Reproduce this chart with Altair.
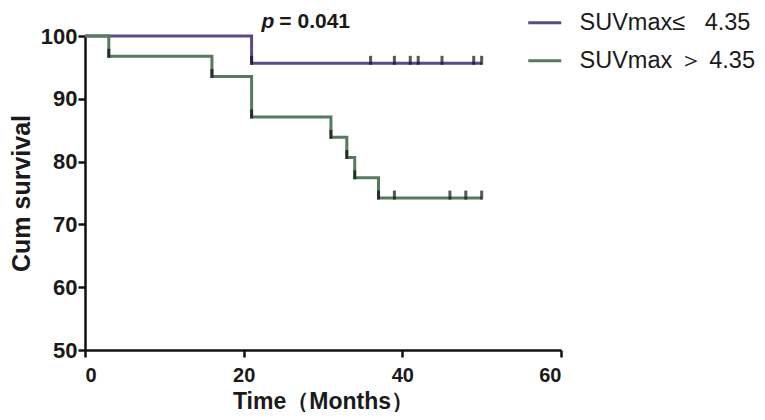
import altair as alt
import pandas as pd

# ---- data ----
series_names = ["SUVmax\u2264\u00a0\u00a0\u00a04.35", "SUVmax \uff1e\u00a04.35"]
series_colors = ["#5a4a88", "#567a5c"]

low_time = [0, 21, 50]
low_surv = [100, 95.65, 95.65]
low_event_time = [21]
low_event_surv = [95.65]
low_cens_time = [36, 39, 41, 42, 45, 49, 50]

high_time = [0, 3, 16, 21, 31, 33, 34, 37, 50]
high_surv = [100, 96.77, 93.55, 87.10, 83.87, 80.65, 77.42, 74.19, 74.19]
high_event_time = [3, 16, 21, 31, 33, 34, 37]
high_event_surv = [96.77, 93.55, 87.10, 83.87, 80.65, 77.42, 74.19]
high_cens_time = [39, 46, 48, 50]

x_ticks = [0, 20, 40, 60]
y_ticks = [50, 60, 70, 80, 90, 100]
p_text = ["p", "= 0.041"]
p_pos = [24.5, 101.35]

# ---- tables ----
lines = pd.DataFrame(
    {"time": low_time + high_time,
     "surv": low_surv + high_surv,
     "series": [series_names[0]] * len(low_time) + [series_names[1]] * len(high_time)}
)
ticks = pd.DataFrame(
    {"time": low_event_time + low_cens_time + high_event_time + high_cens_time,
     "surv": low_event_surv + [low_surv[-1]] * len(low_cens_time)
     + high_event_surv + [high_surv[-1]] * len(high_cens_time),
     "series": [series_names[0]] * (len(low_event_time) + len(low_cens_time))
     + [series_names[1]] * (len(high_event_time) + len(high_cens_time))}
)
ann = pd.DataFrame({"x": [p_pos[0]], "y": [p_pos[1]]})

FONT = "Liberation Sans"
xs = alt.Scale(domain=[0, 60], nice=False, zero=False)
ys = alt.Scale(domain=[50, 100], nice=False, zero=False)

LEG_X = 448
LEG_Y = -25
SYM = 272
LEG_FS = 23.5
ROWPAD = 13
LEG_OFF = 23

line_layer = alt.Chart(lines).mark_line(interpolate="step-after", strokeWidth=3, clip=False).encode(
    x=alt.X("time:Q", scale=xs,
            axis=alt.Axis(values=x_ticks, title="Time\uff08Months\uff09", labelPadding=8,
                          labelFontSize=20, titlePadding=5)),
    y=alt.Y("surv:Q", scale=ys,
            axis=alt.Axis(values=y_ticks, title="Cum survival", labelPadding=1,
                          labelFontSize=22, titleFontSize=25, titlePadding=6)),
    color=alt.Color("series:N",
                    scale=alt.Scale(domain=series_names, range=series_colors),
                    legend=alt.Legend(orient="none", legendX=LEG_X, legendY=LEG_Y, title=None,
                                      symbolType="M-2,0H2", symbolSize=SYM,
                                      symbolStrokeWidth=3, symbolFillColor="transparent",
                                      labelFont=FONT, labelFontSize=LEG_FS, labelColor="#1a1a1a",
                                      labelLimit=400, labelOffset=LEG_OFF, rowPadding=ROWPAD,
                                      padding=0)),
)

tick_layer = alt.Chart(ticks).mark_tick(orient="vertical", thickness=3, size=9, yOffset=-3,
                                        clip=False).encode(
    x=alt.X("time:Q", scale=xs),
    y=alt.Y("surv:Q", scale=ys),
    color=alt.Color("series:N",
                    scale=alt.Scale(domain=series_names, range=["#111111", "#111111"]),
                    legend=alt.Legend(orient="none", legendX=LEG_X, legendY=LEG_Y, title=None,
                                      symbolType="M0,-0.75V0.25", symbolSize=SYM,
                                      symbolStrokeWidth=2.5, symbolFillColor="transparent",
                                      labelFont=FONT, labelFontSize=LEG_FS, labelOpacity=0,
                                      labelLimit=400, labelOffset=LEG_OFF, rowPadding=ROWPAD,
                                      padding=0)),
)

p_italic = alt.Chart(ann).mark_text(text=p_text[0], font=FONT, fontSize=21, fontWeight="bold",
                                    fontStyle="italic", align="right", baseline="alphabetic",
                                    dx=-5, color="#1a1a1a", clip=False).encode(
    x=alt.X("x:Q", scale=xs), y=alt.Y("y:Q", scale=ys))
p_rest = alt.Chart(ann).mark_text(text=p_text[1], font=FONT, fontSize=21, fontWeight="bold",
                                  align="left", baseline="alphabetic", color="#1a1a1a",
                                  clip=False).encode(
    x=alt.X("x:Q", scale=xs), y=alt.Y("y:Q", scale=ys))

chart = alt.layer(line_layer, tick_layer, p_italic, p_rest).resolve_scale(
    color="independent"
).properties(
    width=476, height=314,
    autosize=alt.AutoSizeParams(type="none"),
    padding={"left": 77, "top": 28, "right": 196, "bottom": 62},
).configure_view(stroke=None).configure_axis(
    grid=False, domainColor="#111111", domainWidth=2.5, tickColor="#111111", tickWidth=2.5,
    tickSize=7, labelFont=FONT, labelFontSize=20, labelFontWeight="bold", labelColor="#1a1a1a",
    titleFont=FONT, titleFontSize=23, titleFontWeight="bold", titleColor="#1a1a1a",
)

chart.save("out.html", embed_options={"renderer": "svg", "actions": False})
